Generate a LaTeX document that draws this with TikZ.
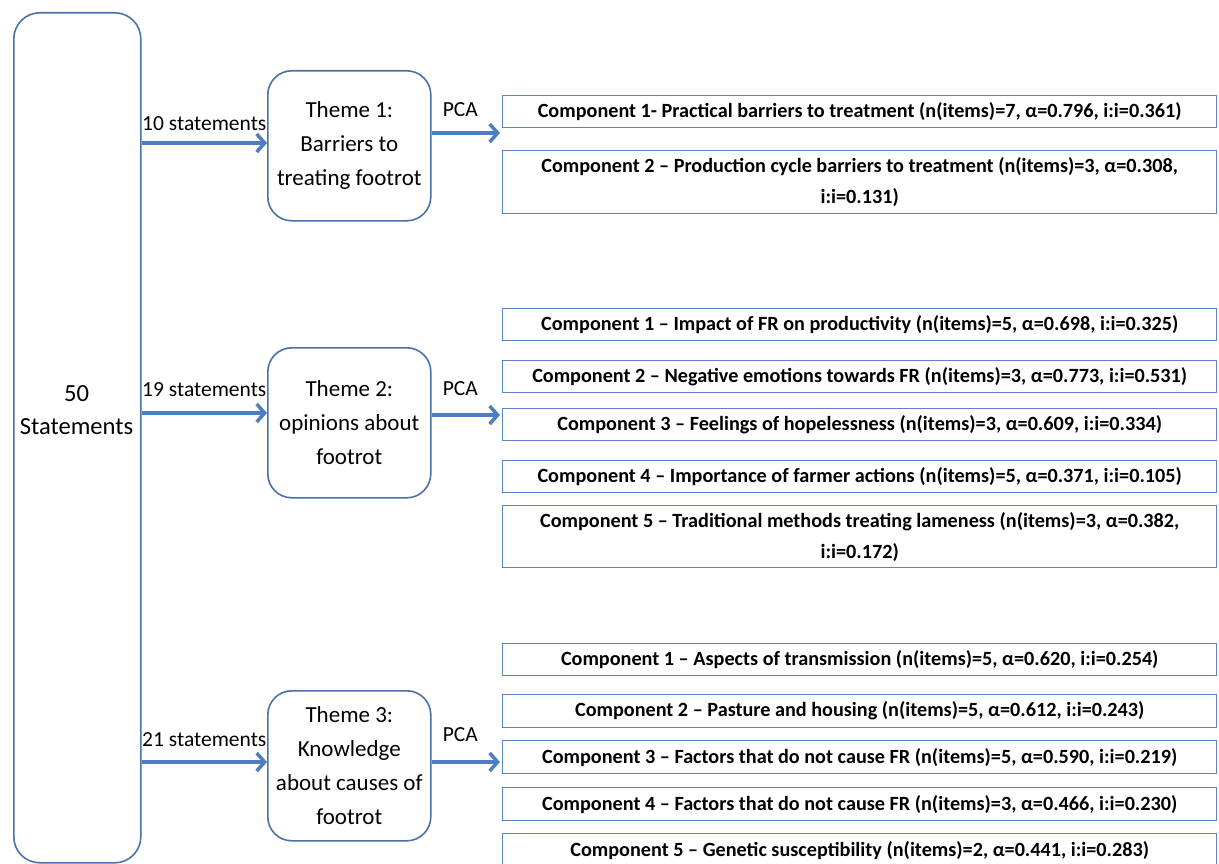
\documentclass[tikz,border=0pt]{standalone}
\usepackage{fontspec}
\setmainfont{Carlito}
\usetikzlibrary{arrows.meta}
\definecolor{bord}{HTML}{5B84C4}
\definecolor{rbord}{HTML}{4A72A8}
\definecolor{arrc}{HTML}{4F7EC0}
\begin{document}
\begin{tikzpicture}[x=1pt,y=-1pt,
  comp/.style={draw=bord, line width=1.4pt, minimum width=714pt, anchor=north west, inner sep=0pt, align=center, font=\fontsize{20.2}{31}\selectfont\bfseries},
  theme/.style={draw=rbord, line width=1.6pt, rounded corners=24pt, minimum width=163pt, minimum height=150pt, anchor=north west, inner sep=0pt, align=center, font=\fontsize{23}{34}\selectfont},
  arr/.style={draw=arrc, line width=3.5pt, -{Straight Barb[length=8pt,width=18pt,line width=3.5pt]}},
  lab/.style={font=\fontsize{21.5}{24}\selectfont, inner sep=0pt}]
\useasboundingbox (0,0) rectangle (1219,864);
% big box
\node[draw=rbord, line width=1.6pt, rounded corners=26pt, minimum width=127pt, minimum height=850pt, anchor=north west] (all) at (13,12) {};
\node[align=center, font=\fontsize{24.6}{33}\selectfont] (allt) at (76.5,410) {50\\Statements};
% themes
\node[theme] (t1) at (267,70) {Theme 1:\\Barriers to\\treating footrot};
\node[theme] (t2) at (267,347) {Theme 2:\\opinions about\\footrot};
\node[theme] (t3) at (267,690) {Theme 3:\\Knowledge\\about causes of\\footrot};
% components theme 1
\node[comp, minimum height=32pt] (c11) at (502,95) {Component 1- Practical barriers to treatment (n(items)=7, α=0.796, i:i=0.361)};
\node[comp, minimum height=63pt] (c12) at (502,150) {Component 2 – Production cycle barriers to treatment (n(items)=3, α=0.308,\\i:i=0.131)};
% components theme 2
\node[comp, minimum height=32pt] (c21) at (502,308) {Component 1 – Impact of FR on productivity (n(items)=5, α=0.698, i:i=0.325)};
\node[comp, minimum height=32pt] (c22) at (502,360) {Component 2 – Negative emotions towards FR (n(items)=3, α=0.773, i:i=0.531)};
\node[comp, minimum height=32pt] (c23) at (502,408) {Component 3 – Feelings of hopelessness (n(items)=3, α=0.609, i:i=0.334)};
\node[comp, minimum height=32pt] (c24) at (502,460) {Component 4 – Importance of farmer actions (n(items)=5, α=0.371, i:i=0.105)};
\node[comp, minimum height=62pt] (c25) at (502,505) {Component 5 – Traditional methods treating lameness (n(items)=3, α=0.382,\\i:i=0.172)};
% components theme 3
\node[comp, minimum height=32pt] (c31) at (502,643) {Component 1 – Aspects of transmission (n(items)=5, α=0.620, i:i=0.254)};
\node[comp, minimum height=33pt] (c32) at (502,694) {Component 2 – Pasture and housing (n(items)=5, α=0.612, i:i=0.243)};
\node[comp, minimum height=33pt] (c33) at (502,740) {Component 3 – Factors that do not cause FR (n(items)=5, α=0.590, i:i=0.219)};
\node[comp, minimum height=33pt] (c34) at (502,787) {Component 4 – Factors that do not cause FR (n(items)=3, α=0.466, i:i=0.230)};
\node[comp, minimum height=33pt] (c35) at (502,833) {Component 5 – Genetic susceptibility (n(items)=2, α=0.441, i:i=0.283)};
% arrows to themes
\coordinate (a1) at (267,143);
\coordinate (a2) at (267,413);
\coordinate (a3) at (267,762);
\draw[arr] (all.east |- a1) -- node[lab, above=11pt, pos=0.5] {10 statements} (a1);
\draw[arr] (all.east |- a2) -- node[lab, above=15pt, pos=0.5] {19 statements} (a2);
\draw[arr] (all.east |- a3) -- node[lab, above=14pt, pos=0.5] {21 statements} (a3);
% PCA arrows
\coordinate (p1) at (500,133);
\coordinate (p2) at (500,415);
\coordinate (p3) at (500,762);
\draw[arr] (t1.east |- p1) -- node[lab, above=15pt, pos=0.42] {PCA} (p1);
\draw[arr] (t2.east |- p2) -- node[lab, above=18pt, pos=0.42] {PCA} (p2);
\draw[arr] (t3.east |- p3) -- node[lab, above=19pt, pos=0.42] {PCA} (p3);
\end{tikzpicture}
\end{document}
